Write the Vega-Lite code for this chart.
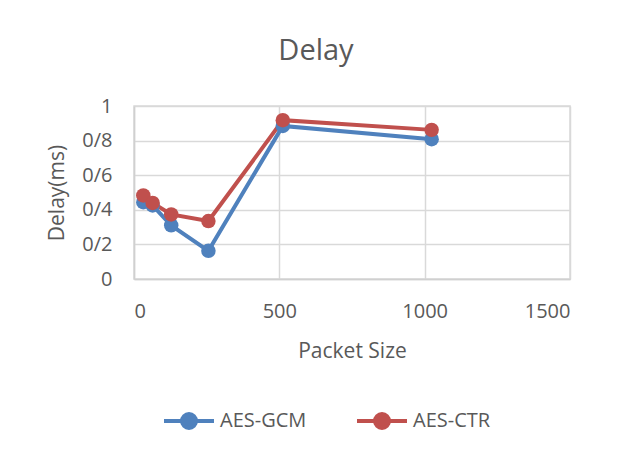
{
  "$schema": "https://vega.github.io/schema/vega-lite/v6.json",
  "width": 436,
  "height": 173,
  "autosize": "none",
  "padding": {"left": 134, "top": 106, "right": 47, "bottom": 176},
  "background": "white",
  "title": {
    "text": "Delay",
    "fontSize": 29,
    "fontWeight": "normal",
    "font": "Open Sans",
    "color": "#595959",
    "dx": -36,
    "offset": 30
  },
  "data": {
    "values": [
      {"size": 32, "delay": 0.444, "series": "AES-GCM"},
      {"size": 64, "delay": 0.425, "series": "AES-GCM"},
      {"size": 128, "delay": 0.31, "series": "AES-GCM"},
      {"size": 256, "delay": 0.163, "series": "AES-GCM"},
      {"size": 512, "delay": 0.885, "series": "AES-GCM"},
      {"size": 1024, "delay": 0.808, "series": "AES-GCM"},
      {"size": 32, "delay": 0.483, "series": "AES-CTR"},
      {"size": 64, "delay": 0.44, "series": "AES-CTR"},
      {"size": 128, "delay": 0.373, "series": "AES-CTR"},
      {"size": 256, "delay": 0.335, "series": "AES-CTR"},
      {"size": 512, "delay": 0.918, "series": "AES-CTR"},
      {"size": 1024, "delay": 0.862, "series": "AES-CTR"}
    ]
  },
  "encoding": {
    "x": {
      "field": "size",
      "type": "quantitative",
      "scale": {"domain": [0, 1500], "nice": false},
      "axis": {
        "values": [0, 500, 1000, 1500],
        "title": "Packet Size",
        "titleFontSize": 21,
        "titleFontWeight": "normal",
        "titlePadding": 19,
        "labelFontSize": 20,
        "labelPadding": 22,
        "format": "d"
      }
    },
    "y": {
      "field": "delay",
      "type": "quantitative",
      "scale": {"domain": [0, 1], "nice": false},
      "axis": {
        "values": [0, 0.2, 0.4, 0.6, 0.8, 1],
        "labelExpr": "replace(toString(datum.value), '.', '/')",
        "title": "Delay(ms)",
        "titleFontSize": 21,
        "titleFontWeight": "normal",
        "titlePadding": 14,
        "labelFontSize": 20,
        "labelPadding": 22
      }
    },
    "color": {
      "field": "series",
      "type": "nominal",
      "scale": {"domain": ["AES-GCM", "AES-CTR"], "range": ["#4f81bd", "#c0504d"]},
      "legend": {
        "title": null,
        "orient": "none",
        "direction": "horizontal",
        "legendX": 28,
        "legendY": 288,
        "labelFontSize": 20,
        "labelColor": "#595959",
        "labelFont": "Open Sans",
        "columnPadding": 42,
        "labelOffset": 4,
        "symbolType": "M-1,0H1M-0.28,0A0.28,0.28,0,1,0,0.28,0A0.28,0.28,0,1,0,-0.28,0Z",
        "symbolSize": 2500,
        "symbolStrokeWidth": 4,
        "encode": {
          "symbols": {"update": {"fill": {"scale": "color", "field": "value"}, "stroke": {"scale": "color", "field": "value"}}}
        }
      }
    }
  },
  "layer": [
    {"mark": {"type": "line", "strokeWidth": 4}},
    {"mark": {"type": "point", "filled": true, "size": 210, "opacity": 1}}
  ],
  "config": {
    "font": "Open Sans",
    "view": {"stroke": "#d9d9d9", "strokeWidth": 1.5},
    "axis": {
      "labelColor": "#595959",
      "titleColor": "#595959",
      "labelFont": "Open Sans",
      "titleFont": "Open Sans",
      "gridColor": "#d9d9d9",
      "gridWidth": 1.5,
      "domainColor": "#d0d0d0",
      "domainWidth": 1.5,
      "ticks": false
    }
  }
}
